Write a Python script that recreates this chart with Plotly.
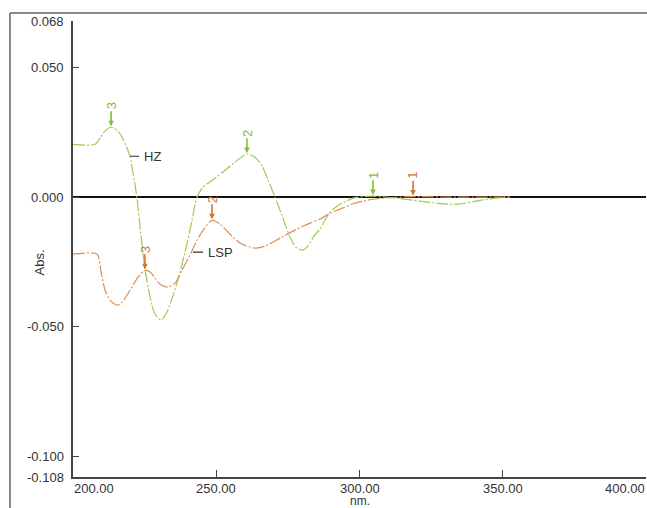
import plotly.graph_objects as go

# ---- data ----
hz_nm = [200.0, 207.7, 209.4, 210.8, 213.3, 215.7, 217.8, 219.9, 220.9, 222.3, 223.7, 225.1,
         226.9, 228.6, 230.7, 232.8, 234.6, 236.6, 239.1, 241.2, 243.3, 245.4, 249.6, 253.1,
         256.5, 260.7, 263.5, 266.0, 268.1, 270.5, 272.9, 275.7, 277.8, 279.9, 282.0, 284.1,
         286.2, 289.7, 293.2, 298.4, 304.7, 313.1, 321.1, 328.1, 334.4, 342.1, 349.0, 352.5]
hz_abs = [0.0204, 0.0204, 0.0228, 0.0251, 0.0270, 0.0255, 0.0216, 0.0158, 0.0096, 0.0000,
          -0.0147, -0.0274, -0.0386, -0.0451, -0.0474, -0.0444, -0.0390, -0.0320, -0.0212,
          -0.0108, 0.0000, 0.0039, 0.0073, 0.0104, 0.0135, 0.0166, 0.0154, 0.0120, 0.0066,
          0.0000, -0.0069, -0.0154, -0.0193, -0.0204, -0.0189, -0.0150, -0.0123, -0.0058,
          -0.0027, -0.0002, 0.0004, -0.0004, -0.0015, -0.0025, -0.0027, -0.0012, -0.0002, 0.0000]

lsp_nm = [200.0, 208.4, 209.8, 211.2, 212.9, 215.4, 217.2, 219.9, 222.7, 225.1, 226.9, 228.6,
          230.4, 233.1, 235.6, 238.0, 240.8, 243.3, 246.1, 248.5, 251.3, 254.8, 258.3, 261.8,
          263.9, 267.0, 272.3, 277.5, 282.7, 286.2, 289.7, 293.2, 298.4, 304.7, 310.6, 318.7,
          331.6, 352.5]
lsp_abs = [-0.0220, -0.0220, -0.0289, -0.0359, -0.0397, -0.0417, -0.0405, -0.0359, -0.0309,
           -0.0282, -0.0289, -0.0312, -0.0336, -0.0347, -0.0332, -0.0282, -0.0224, -0.0166,
           -0.0116, -0.0089, -0.0104, -0.0143, -0.0177, -0.0193, -0.0197, -0.0189, -0.0158,
           -0.0127, -0.0100, -0.0085, -0.0062, -0.0046, -0.0023, -0.0008, -0.0002, 0.0002,
           0.0000, 0.0000]

# peak picks: (label, nm, abs)
hz_peaks = [("3", 213.3, 0.0270), ("2", 260.7, 0.0166), ("1", 304.7, 0.0004)]
lsp_peaks = [("3", 225.1, -0.0282), ("2", 248.5, -0.0089), ("1", 318.7, 0.0002)]

x_ticks = [200, 250, 300, 350, 400]
x_ticklabels = ["200.00", "250.00", "300.00", "350.00", "400.00"]
y_ticks = [0.068, 0.050, 0.000, -0.050, -0.100, -0.108]
y_ticklabels = ["0.068", "0.050", "0.000", "-0.050", "-0.100", "-0.108"]
y_tickmarks = [0.050, 0.000, -0.050, -0.100]

GREEN = "#9ccd4e"
ORANGE = "#dc8f52"
GREEN_D = "#84c030"
ORANGE_D = "#cf7630"
FONT = "Liberation Sans, Arial, Helvetica, sans-serif"
TXT = "#333333"

fig = go.Figure()
fig.add_trace(go.Scatter(x=hz_nm, y=hz_abs, mode="lines", name="HZ",
                         line=dict(color=GREEN, width=1.2, dash="12px,2px,2px,2px",
                                   shape="spline", smoothing=0.7)))
fig.add_trace(go.Scatter(x=lsp_nm, y=lsp_abs, mode="lines", name="LSP",
                         line=dict(color=ORANGE, width=1.2, dash="12px,2px,2px,2px",
                                   shape="spline", smoothing=0.7)))

ann = []
for peaks, col in ((hz_peaks, GREEN_D), (lsp_peaks, ORANGE_D)):
    for lab, px, py in peaks:
        ann.append(dict(x=px, y=py, xref="x", yref="y", text=lab, textangle=-90,
                        showarrow=True, ax=0, ay=-21, arrowhead=2, arrowsize=0.7,
                        arrowwidth=1.6, arrowcolor=col, standoff=1,
                        font=dict(family=FONT, size=13, color=col)))

# curve callouts
ann.append(dict(x=219.9, y=0.0158, xref="x", yref="y", text="HZ", showarrow=True,
                ax=9, ay=0, xanchor="left", arrowhead=0, arrowwidth=1.2, arrowcolor="#333",
                standoff=0, borderpad=4, font=dict(family=FONT, size=13, color=TXT)))
ann.append(dict(x=241.2, y=-0.0212, xref="x", yref="y", text="LSP", showarrow=True,
                ax=12, ay=0, xanchor="left", arrowhead=0, arrowwidth=1.2, arrowcolor="#333",
                standoff=2, borderpad=4, font=dict(family=FONT, size=13, color=TXT)))

# tick labels
for v, t in zip(x_ticks, x_ticklabels):
    xa = "left" if v == x_ticks[0] else ("right" if v == x_ticks[-1] else "center")
    ann.append(dict(x=v, y=-0.0245, xref="x", yref="paper", text=t, showarrow=False,
                    xanchor=xa, yanchor="middle", height=14, borderpad=0,
                    font=dict(family=FONT, size=13, color=TXT)))
for v, t in zip(y_ticks, y_ticklabels):
    ann.append(dict(x=-0.012, y=v, xref="paper", yref="y", text=t, showarrow=False,
                    xanchor="right", yanchor="middle", font=dict(family=FONT, size=13, color=TXT)))

ann.append(dict(x=0.5, y=-0.0525, xref="paper", yref="paper", text="nm.", showarrow=False,
                xanchor="center", yanchor="middle", borderpad=0, height=12,
                font=dict(family=FONT, size=12, color=TXT)))
ann.append(dict(x=-0.058, y=0.47, xref="paper", yref="paper", text="Abs.", showarrow=False,
                textangle=-90, xanchor="center", yanchor="middle",
                font=dict(family=FONT, size=13, color=TXT)))

shapes = [
    dict(type="line", xref="paper", yref="paper", x0=-0.110, x1=1.01, y0=1.0175, y1=1.0175,
         line=dict(color="#666666", width=1.5)),
    dict(type="line", xref="paper", yref="paper", x0=-0.110, x1=-0.110, y0=1.0175, y1=-0.08,
         line=dict(color="#666666", width=1.5)),
]

fig.update_layout(
    width=647, height=508,
    margin=dict(l=73, r=1, t=21, b=31),
    paper_bgcolor="white", plot_bgcolor="white",
    showlegend=False,
    annotations=ann, shapes=shapes,
    xaxis=dict(range=[200, 400], showgrid=False, zeroline=False, showline=True,
               linecolor="#444444", linewidth=1.5, ticks="inside", ticklen=7,
               tickcolor="#444444", tickvals=x_ticks[1:-1], showticklabels=False),
    yaxis=dict(range=[-0.108, 0.068], showgrid=False, zeroline=True, zerolinecolor="#111111",
               zerolinewidth=1.6, showline=True, linecolor="#444444", linewidth=1.5,
               ticks="inside", ticklen=6, tickcolor="#444444", tickvals=y_tickmarks,
               showticklabels=False),
)

fig.write_html("out.html", config={"displayModeBar": False},
               post_script="document.body.style.margin='0';document.body.style.overflow='hidden';")
